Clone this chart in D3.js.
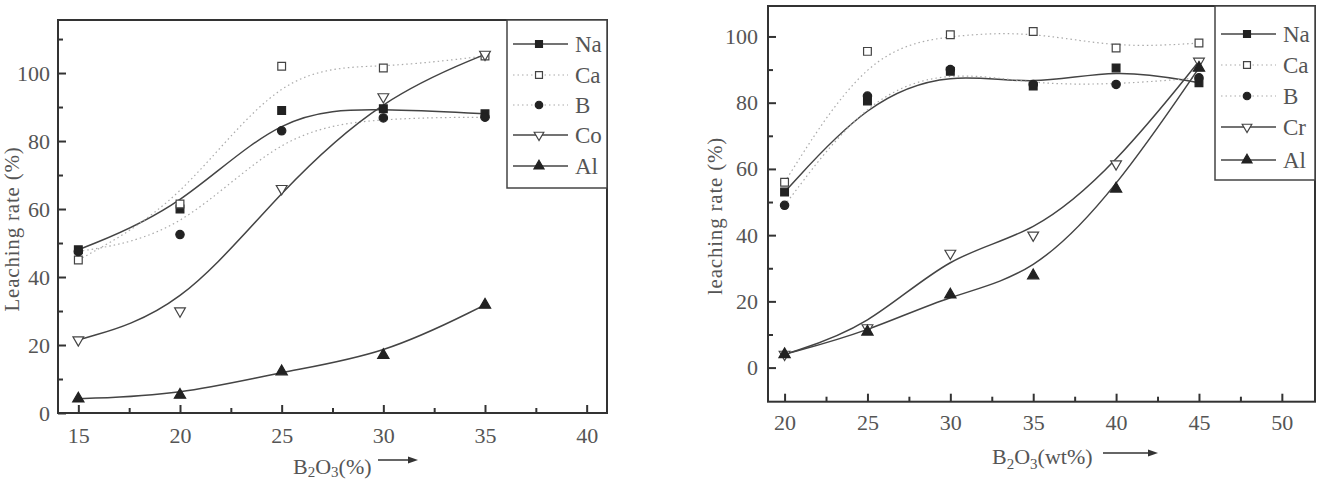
<!DOCTYPE html>
<html>
<head>
<meta charset="utf-8">
<script src="https://cdn.jsdelivr.net/npm/d3@7"></script>
<style>
body { margin: 0; background: #fff; }
text { font-family: "Liberation Serif", "DejaVu Serif", serif; fill: #555; }
</style>
</head>
<body>
<svg width="1322" height="479"></svg>
<script>
// left panel: B2O3 (%) 15..35
var leftX  = [15, 20, 25, 30, 35];
var leftNa = [48, 60, 89, 89.5, 88];
var leftCa = [45, 61.5, 102, 101.5, 105];
var leftB  = [47.5, 52.5, 83, 86.8, 87];
var leftCo = [21.5, 30, 66, 93, 105.5];
var leftAl = [4.2, 5.3, 12.2, 17, 31.8];

// right panel: B2O3 (wt%) 20..45
var rightX  = [20, 25, 30, 35, 40, 45];
var rightNa = [53, 80.5, 89.5, 85, 90.5, 86];
var rightCa = [56, 95.5, 100.5, 101.5, 96.5, 98];
var rightB  = [49, 82, 90, 85.5, 85.5, 87.5];
var rightCr = [4, 12, 34.5, 40, 61.5, 92.5];
var rightAl = [4, 10.8, 22, 27.8, 54, 90.5];

var leftXTicks = [15, 20, 25, 30, 35, 40];
var leftYTicks = [0, 20, 40, 60, 80, 100];
var rightXTicks = [20, 25, 30, 35, 40, 45, 50];
var rightYTicks = [0, 20, 40, 60, 80, 100];

var svg = d3.select("svg");

var symbols = {
  square: { type: d3.symbolSquare, size: 60, fill: "#222", rot: 0 },
  osquare: { type: d3.symbolSquare, size: 60, fill: "#fff", rot: 0 },
  circle: { type: d3.symbolCircle, size: 55, fill: "#222", rot: 0 },
  dtri: { type: d3.symbolTriangle, size: 50, fill: "#fff", rot: 180 },
  tri: { type: d3.symbolTriangle, size: 55, fill: "#222", rot: 0 }
};

function drawPanel(p) {
  var x = d3.scaleLinear().domain(p.xDomain).range([p.left, p.right]);
  var y = d3.scaleLinear().domain(p.yDomain).range([p.bottom, p.top]);
  var g = svg.append("g");

  // frame
  g.append("rect")
      .attr("x", p.left).attr("y", p.top)
      .attr("width", p.right - p.left).attr("height", p.bottom - p.top)
      .attr("fill", "none").attr("stroke", "#333").attr("stroke-width", 2);

  // axes, ticks pointing inward
  var xa = g.append("g").attr("transform", "translate(0," + p.bottom + ")")
      .call(d3.axisBottom(x).tickValues(p.xTicks).tickSize(-8).tickPadding(p.xPad));
  var xm = g.append("g").attr("transform", "translate(0," + p.bottom + ")")
      .call(d3.axisBottom(x).tickValues(p.xMinor).tickSize(-5).tickFormat(""));
  var ya = g.append("g").attr("transform", "translate(" + p.left + ",0)")
      .call(d3.axisLeft(y).tickValues(p.yTicks).tickSize(-8).tickPadding(p.yPad));
  var ym = g.append("g").attr("transform", "translate(" + p.left + ",0)")
      .call(d3.axisLeft(y).tickValues(p.yMinor).tickSize(-5).tickFormat(""));
  [xa, xm, ya, ym].forEach(function(a) {
    a.select(".domain").remove();
    a.selectAll("line").attr("stroke", "#333").attr("stroke-width", 2);
    a.selectAll("text").attr("font-size", 22).attr("fill", "#555")
        .attr("font-family", "Liberation Serif, DejaVu Serif, serif");
  });

  var line = d3.line()
      .x(function(d) { return x(d[0]); })
      .y(function(d) { return y(d[1]); })
      .curve(d3.curveBasis);

  p.series.forEach(function(s) {
    var pts = p.xs.map(function(v, i) { return [v, s.values[i]]; });
    g.append("path")
        .attr("d", line(pts))
        .attr("fill", "none")
        .attr("stroke", s.dotted ? "#aaa" : "#444")
        .attr("stroke-width", s.dotted ? 1.2 : 1.5)
        .attr("stroke-dasharray", s.dotted ? "1.5,3" : null);
  });

  p.series.forEach(function(s) {
    var sym = symbols[s.marker];
    var pts = p.xs.map(function(v, i) { return [v, s.values[i]]; });
    g.selectAll(null).data(pts).enter().append("path")
        .attr("d", d3.symbol().type(sym.type).size(sym.size))
        .attr("transform", function(d) {
          return "translate(" + x(d[0]) + "," + y(d[1]) + ") rotate(" + sym.rot + ")";
        })
        .attr("fill", sym.fill)
        .attr("stroke", sym.fill === "#fff" ? "#444" : "#222")
        .attr("stroke-width", 1.2);
  });

  // legend
  var L = p.legend;
  g.append("rect")
      .attr("x", L.x).attr("y", p.top)
      .attr("width", p.right - L.x).attr("height", L.bottom - p.top)
      .attr("fill", "#fff").attr("stroke", "#444").attr("stroke-width", 1.5);
  p.series.forEach(function(s, i) {
    var ly = L.rows[i];
    var sym = symbols[s.marker];
    g.append("line")
        .attr("x1", L.x + 6).attr("x2", L.x + 61)
        .attr("y1", ly).attr("y2", ly)
        .attr("stroke", s.dotted ? "#aaa" : "#444")
        .attr("stroke-width", s.dotted ? 1.2 : 1.5)
        .attr("stroke-dasharray", s.dotted ? "1.5,3" : null);
    g.append("path")
        .attr("d", d3.symbol().type(sym.type).size(sym.size * 0.8))
        .attr("transform", "translate(" + (L.x + 32) + "," + ly + ") rotate(" + sym.rot + ")")
        .attr("fill", sym.fill)
        .attr("stroke", sym.fill === "#fff" ? "#444" : "#222")
        .attr("stroke-width", 1.2);
    g.append("text")
        .attr("x", L.x + 68).attr("y", ly + 8)
        .attr("font-size", 23)
        .text(s.name);
  });

  // y label
  g.append("text")
      .attr("transform", "translate(" + p.yLabel[0] + "," + p.yLabel[1] + ") rotate(-90)")
      .attr("text-anchor", "middle")
      .attr("font-size", 21)
      .attr("letter-spacing", 0.8)
      .text(p.yTitle);

  // x label with subscripts
  var xl = g.append("text")
      .attr("x", p.xLabel[0]).attr("y", p.xLabel[1])
      .attr("font-size", 22);
  xl.append("tspan").text("B");
  xl.append("tspan").attr("dy", p.subDy).attr("font-size", 15).text("2");
  xl.append("tspan").attr("dy", -p.subDy).text("O");
  xl.append("tspan").attr("dy", p.subDy).attr("font-size", 15).text("3");
  xl.append("tspan").attr("dy", -p.subDy).text(p.xUnit);

  // arrow
  var a = p.arrow;
  g.append("line")
      .attr("x1", a[0]).attr("x2", a[1] - 8)
      .attr("y1", a[2]).attr("y2", a[2])
      .attr("stroke", "#333").attr("stroke-width", 1.5);
  g.append("path")
      .attr("d", "M" + a[1] + "," + a[2] + "l-10,-3.5l0,7z")
      .attr("fill", "#333");
}

drawPanel({
  left: 58, top: 20, right: 607, bottom: 413,
  xDomain: [14, 41], yDomain: [0, 115.6],
  xTicks: leftXTicks, xMinor: [17.5, 22.5, 27.5, 32.5, 37.5],
  yTicks: leftYTicks, yMinor: [10, 30, 50, 70, 90, 110],
  xPad: 14, yPad: 8,
  xs: leftX,
  series: [
    { name: "Na", values: leftNa, marker: "square", dotted: false },
    { name: "Ca", values: leftCa, marker: "osquare", dotted: true },
    { name: "B", values: leftB, marker: "circle", dotted: true },
    { name: "Co", values: leftCo, marker: "dtri", dotted: false },
    { name: "Al", values: leftAl, marker: "tri", dotted: false }
  ],
  legend: { x: 507, bottom: 188, rows: [44, 75, 105, 135, 166] },
  yTitle: "Leaching rate (%)", yLabel: [19, 229],
  xUnit: "(%)", xLabel: [293, 474], subDy: 3,
  arrow: [378, 418, 460]
});

drawPanel({
  left: 768, top: 6, right: 1315, bottom: 401.7,
  xDomain: [19, 52], yDomain: [-10.3, 109.2],
  xTicks: rightXTicks, xMinor: [22.5, 27.5, 32.5, 37.5, 42.5, 47.5],
  yTicks: rightYTicks, yMinor: [10, 30, 50, 70, 90],
  xPad: 13, yPad: 10,
  xs: rightX,
  series: [
    { name: "Na", values: rightNa, marker: "square", dotted: false },
    { name: "Ca", values: rightCa, marker: "osquare", dotted: true },
    { name: "B", values: rightB, marker: "circle", dotted: true },
    { name: "Cr", values: rightCr, marker: "dtri", dotted: false },
    { name: "Al", values: rightAl, marker: "tri", dotted: false }
  ],
  legend: { x: 1215, bottom: 180, rows: [34, 65, 96, 127, 160] },
  yTitle: "leaching rate (%)", yLabel: [722, 216],
  xUnit: "(wt%)", xLabel: [992, 464], subDy: 5,
  arrow: [1103, 1158, 453]
});
</script>
</body>
</html>
